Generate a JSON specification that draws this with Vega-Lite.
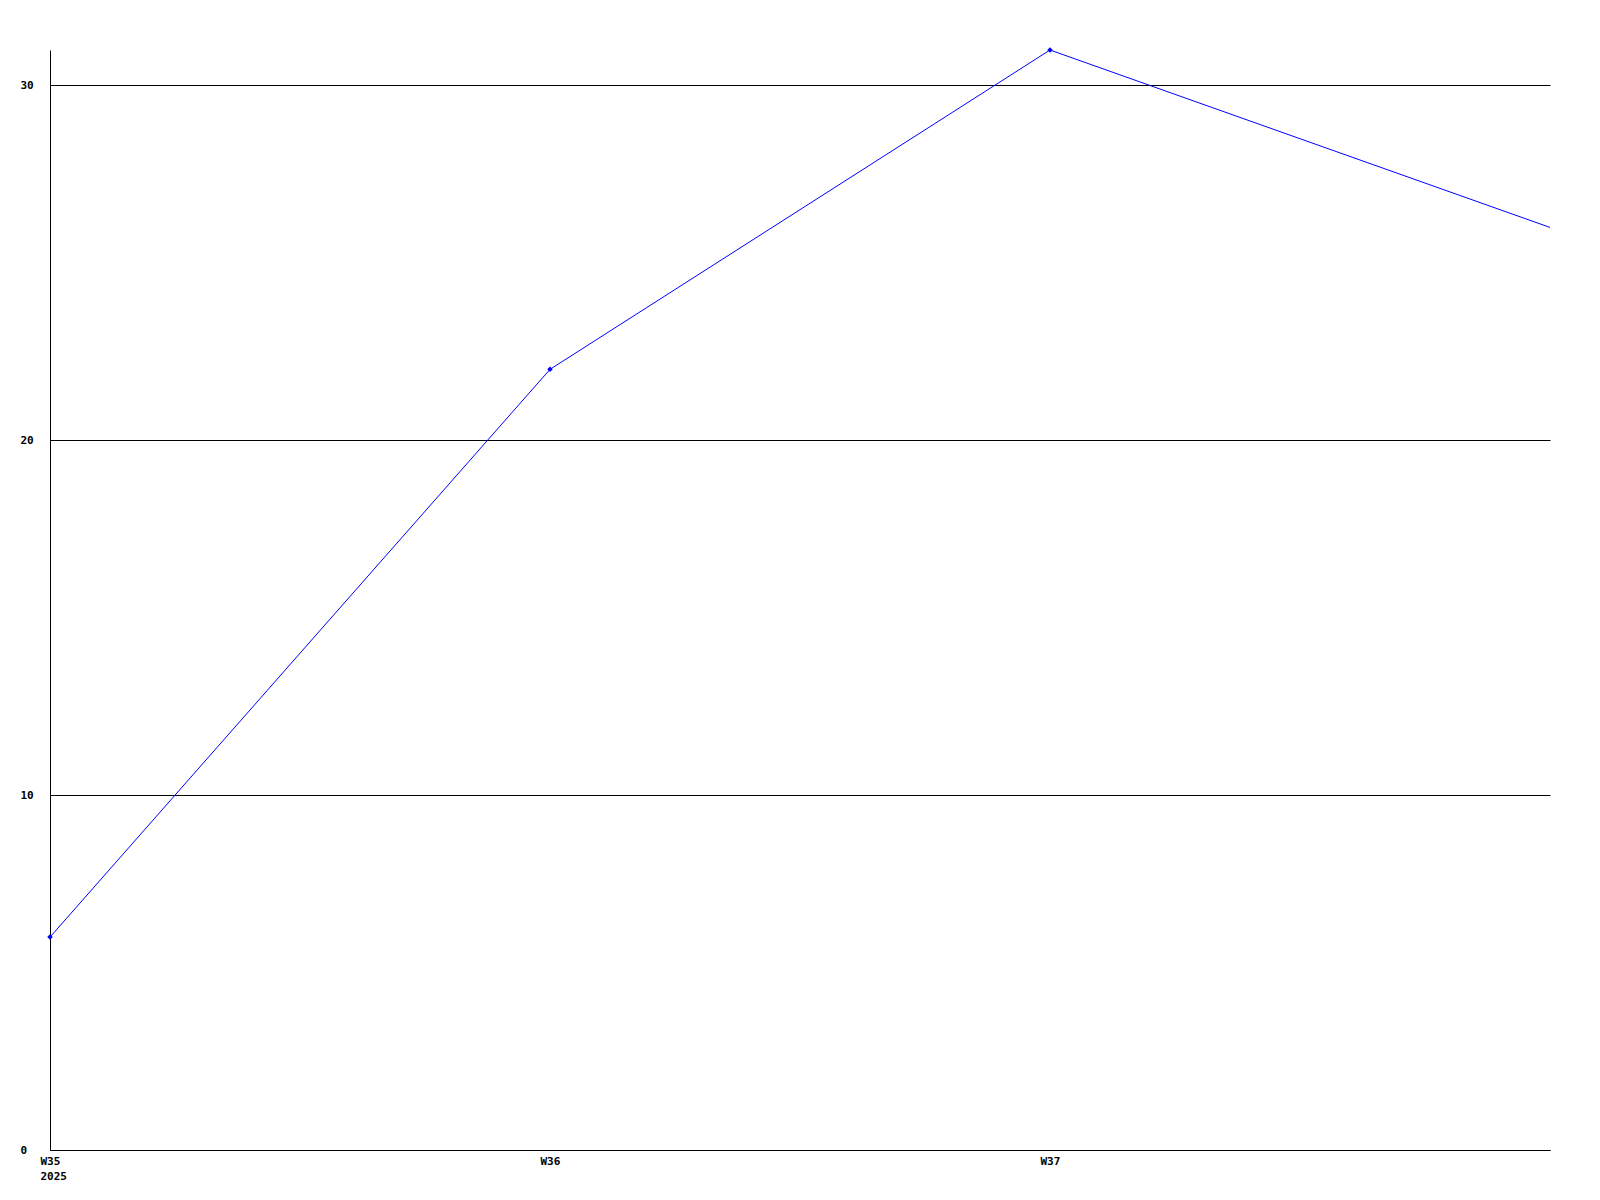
{
  "$schema": "https://vega.github.io/schema/vega-lite/v6.json",
  "width": 1500,
  "height": 1100,
  "autosize": {"type": "none"},
  "padding": {"left": 50, "top": 50, "right": 50, "bottom": 50},
  "background": "white",
  "config": {
    "view": {"stroke": null},
    "axis": {
      "labelFont": "DejaVu Sans Mono",
      "labelFontWeight": "bold",
      "labelFontSize": 11,
      "labelColor": "black",
      "domainColor": "black",
      "domainWidth": 1,
      "ticks": false,
      "gridColor": "black",
      "gridOpacity": 1,
      "gridWidth": 1,
      "title": null
    }
  },
  "data": {
    "values": [
      {"week": 35, "value": 6},
      {"week": 36, "value": 22},
      {"week": 37, "value": 31},
      {"week": 38, "value": 26}
    ]
  },
  "encoding": {
    "x": {
      "field": "week",
      "type": "quantitative",
      "scale": {"domain": [35, 38], "nice": false, "zero": false},
      "axis": {
        "values": [35, 36, 37],
        "grid": false,
        "labelAlign": "left",
        "labelOffset": -10,
        "labelPadding": 5,
        "labelLineHeight": 15,
        "labelExpr": "datum.value == 35 ? ['W35', '2025'] : 'W' + datum.value",
        "labelFlush": false,
        "labelOverlap": false
      }
    },
    "y": {
      "field": "value",
      "type": "quantitative",
      "scale": {"domain": [0, 31], "nice": false},
      "axis": {
        "values": [0, 10, 20, 30],
        "grid": true,
        "labelAlign": "left",
        "labelPadding": 30,
        "labelFlush": false,
        "labelBaseline": "middle"
      }
    }
  },
  "layer": [
    {"mark": {"type": "line", "color": "#0000ff", "strokeWidth": 1, "clip": false}},
    {
      "transform": [{"filter": "datum.week < 38"}],
      "mark": {"type": "point", "shape": "diamond", "filled": true, "color": "#0000ff", "size": 30, "opacity": 1}
    }
  ]
}
